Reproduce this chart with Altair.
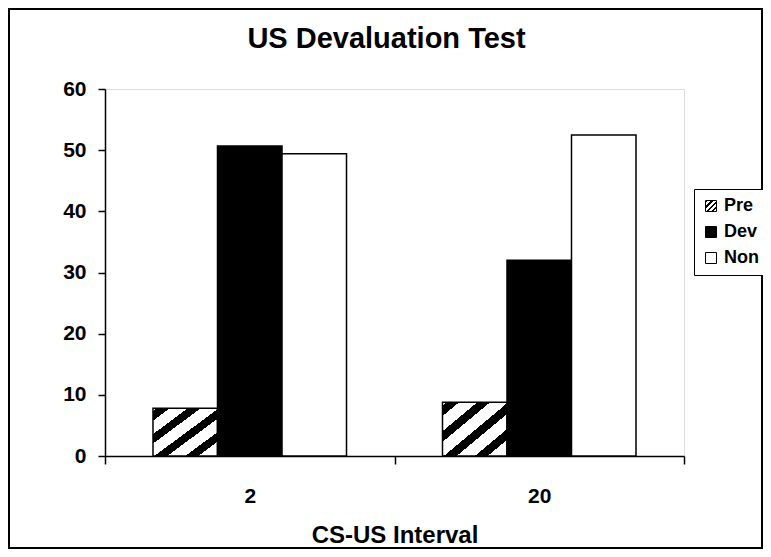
import altair as alt
import pandas as pd

# ---- data ----
categories = ["2", "20"]
series = ["Pre", "Dev", "Non"]
pre_values = [7.8, 8.8]
dev_values = [50.7, 32.0]
non_values = [49.4, 52.5]
y_ticks = [0, 10, 20, 30, 40, 50, 60]

rows = []
for i, c in enumerate(categories):
    rows.append({"interval": c, "group": "Pre", "value": pre_values[i]})
    rows.append({"interval": c, "group": "Dev", "value": dev_values[i]})
    rows.append({"interval": c, "group": "Non", "value": non_values[i]})
df = pd.DataFrame(rows)

FONT = "Liberation Sans"

# diagonal hatch as a hard-stop linear gradient (style only)
period = 0.24
black_w = 0.10
phase = 0.03
stops = ["{offset:0,color:'white'}"]
s = phase
while s < 1.0:
    e = min(s + black_w, 1.0)
    stops.append("{offset:%.4f,color:'white'}" % s)
    stops.append("{offset:%.4f,color:'black'}" % s)
    stops.append("{offset:%.4f,color:'black'}" % e)
    stops.append("{offset:%.4f,color:'white'}" % e)
    s += period
stops.append("{offset:1,color:'white'}")
hatch_expr = "{gradient:'linear',x1:0,y1:0,x2:1,y2:1,stops:[" + ",".join(stops) + "]}"

bars = alt.Chart(df).mark_bar(stroke="black", strokeWidth=1.5).encode(
    x=alt.X(
        "interval:N",
        sort=categories,
        scale=alt.Scale(paddingInner=0, paddingOuter=0),
        axis=alt.Axis(
            title="CS-US Interval",
            labelAngle=0,
            tickBand="extent",
            tickSize=8,
            tickColor="black",
            tickWidth=1.5,
            domainColor="black",
            domainWidth=1.5,
            labelFont=FONT,
            labelFontSize=21,
            labelFontWeight="bold",
            labelColor="black",
            labelPadding=21,
            titleFont=FONT,
            titleFontSize=24,
            titleFontWeight="bold",
            titleColor="black",
            titleBaseline="alphabetic",
            titleY=86,
        ),
    ),
    xOffset=alt.XOffset(
        "group:N",
        sort=series,
        scale=alt.Scale(paddingInner=0, paddingOuter=0.744),
    ),
    y=alt.Y(
        "value:Q",
        scale=alt.Scale(domain=[0, 60], nice=False),
        axis=alt.Axis(
            values=y_ticks,
            title=None,
            grid=False,
            tickSize=7,
            tickColor="black",
            tickWidth=1.5,
            domainColor="black",
            domainWidth=1.5,
            labelFont=FONT,
            labelFontSize=21,
            labelFontWeight="bold",
            labelColor="black",
            labelPadding=12,
        ),
    ),
    fill=alt.Fill(
        "group:N",
        sort=series,
        scale=alt.Scale(domain=series, range=[{"expr": hatch_expr}, "black", "white"]),
        legend=alt.Legend(
            title=None,
            orient="none",
            legendX=589,
            legendY=100,
            symbolType="square",
            symbolSize=121,
            symbolStrokeColor="black",
            symbolStrokeWidth=1,
            labelFont=FONT,
            labelFontSize=18,
            labelFontWeight="bold",
            labelColor="black",
            labelOffset=4,
            rowPadding=8,
            padding=8,
            strokeColor="black",
            fillColor="white",
        ),
    ),
)

frame = alt.Chart(alt.Data(values=[{}])).mark_rect(
    fill="transparent", stroke="black", strokeWidth=2
).encode(
    x=alt.value(-96), x2=alt.value(657), y=alt.value(-80), y2=alt.value(459)
)

chart = alt.layer(bars, frame).properties(
    width=579,
    height=367,
    autosize=alt.AutoSizeParams(type="none"),
    padding={"left": 97, "top": 81, "right": 79, "bottom": 93},
    title=alt.Title(
        "US Devaluation Test",
        font=FONT,
        fontSize=29,
        fontWeight="bold",
        color="black",
        anchor="middle",
        baseline="alphabetic",
        dx=-8,
        dy=69,
        offset=0,
    ),
).configure_view(stroke="black", strokeWidth=1.5).configure_legend(
    strokeWidth=1.5
).configure(background="white")

chart.save("out.html", embed_options={"renderer": "svg", "actions": False})
